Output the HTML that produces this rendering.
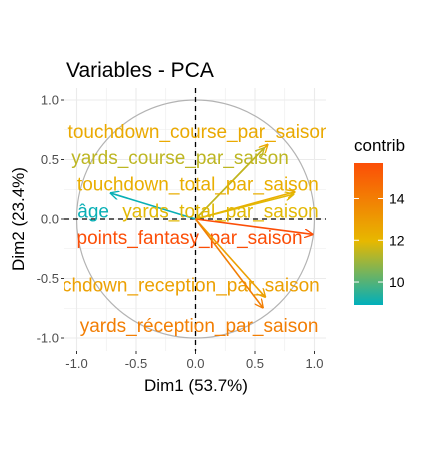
<!DOCTYPE html>
<html><head><meta charset="utf-8"><style>
body{margin:0;background:#fff;}
svg text{font-family:"Liberation Sans",sans-serif;}
</style></head><body>
<svg id="chart" width="426" height="455" xmlns="http://www.w3.org/2000/svg">
<defs>
<clipPath id="pc"><rect x="64" y="88" width="262" height="263"/></clipPath>
<linearGradient id="lg" x1="0" y1="1" x2="0" y2="0">
<stop offset="0" stop-color="#00AFBB"/><stop offset="0.45" stop-color="#E7B800"/><stop offset="1" stop-color="#FC4E07"/>
</linearGradient>
<marker id="ah" viewBox="0 0 10 10" refX="10" refY="5" markerWidth="9" markerHeight="9" orient="auto-start-reverse" markerUnits="userSpaceOnUse"><path d="M0,0 L10,5 L0,10" fill="none" stroke="context-stroke" stroke-width="1.5"/></marker>
</defs>
<text x="66" y="77" font-size="21" fill="#000">Variables - PCA</text>
<g id="grid"></g>
<g id="marks" clip-path="url(#pc)"></g>
<g id="axes"></g>
<text x="196" y="391" font-size="17" text-anchor="middle" fill="#000">Dim1 (53.7%)</text>
<text transform="translate(24,219) rotate(-90)" font-size="17" text-anchor="middle" fill="#000">Dim2 (23.4%)</text>
<text x="354" y="151" font-size="17" fill="#000">contrib</text>
<rect x="354" y="163" width="29" height="142" fill="url(#lg)"/>
<g id="legend"></g>
</svg>
<script>
const names=["touchdown_course_par_saison","yards_course_par_saison","touchdown_total_par_saison","âge","yards_total_par_saison","points_fantasy_par_saison","touchdown_reception_par_saison","yards_réception_par_saison"];
const dim1=[0.61,0.58,0.84,-0.72,0.83,0.99,0.59,0.57];
const dim2=[0.63,0.60,0.23,0.22,0.21,-0.13,-0.66,-0.75];
const contrib=[12.5,11.4,12.3,9.0,11.9,15.7,12.8,14.0];
const labelX=[0.03,-0.13,0.02,-0.86,0.21,-0.05,-0.15,0.03];
const labelY=[0.74,0.52,0.30,0.07,0.07,-0.15,-0.55,-0.89];
const ticks=[-1.0,-0.5,0.0,0.5,1.0];
const tickLabels=["-1.0","-0.5","0.0","0.5","1.0"];
const legendTicks=[10,12,14];
const NS="http://www.w3.org/2000/svg";
const sx=v=>195.5+v*119, sy=v=>219-v*119;
const cy=v=>305-(v-8.9)*(142/6.8);
function mk(t,a,p){const e=document.createElementNS(NS,t);for(const k in a)e.setAttribute(k,a[k]);p.appendChild(e);return e;}
function lerp(a,b,t){return a.map((x,i)=>Math.round(x+(b[i]-x)*t));}
function col(c){const t=Math.max(0,Math.min(1,(c-8.9)/6.8));const A=[0,175,187],B=[231,184,0],C=[252,78,7];const r=t<0.45?lerp(A,B,t/0.45):lerp(B,C,(t-0.45)/0.55);return `rgb(${r})`;}
const grid=document.getElementById('grid'),marks=document.getElementById('marks'),axes=document.getElementById('axes'),leg=document.getElementById('legend');
let bg=mk('rect',{x:64,y:88,width:262,height:263,fill:'#fff'},grid);

for(let v=-1;v<=1.001;v+=0.25){const major=Math.abs(v*2-Math.round(v*2))<1e-6;
 mk('line',{x1:sx(v),x2:sx(v),y1:88,y2:351,stroke:'#ebebeb','stroke-width':major?1.1:0.55},grid);
 mk('line',{x1:64,x2:326,y1:sy(v),y2:sy(v),stroke:'#ebebeb','stroke-width':major?1.1:0.55},grid);}
let circ=mk('circle',{cx:sx(0),cy:sy(0),r:119,fill:'none',stroke:'#b3b3b3','stroke-width':1.2},marks);

mk('line',{x1:64,x2:326,y1:sy(0),y2:sy(0),stroke:'#000','stroke-width':1.3,'stroke-dasharray':'5,4'},marks);
mk('line',{x1:sx(0),x2:sx(0),y1:88,y2:351,stroke:'#000','stroke-width':1.3,'stroke-dasharray':'5,4'},marks);
names.forEach((n,i)=>{const c=col(contrib[i]);
 const a=mk('line',{x1:sx(0),y1:sy(0),x2:sx(dim1[i]),y2:sy(dim2[i]),stroke:c,'stroke-width':1.6,'marker-end':'url(#ah)'},marks);
 
 const t=mk('text',{x:sx(labelX[i]),y:sy(labelY[i])+7,'font-size':19,fill:c,'text-anchor':'middle'},marks);t.textContent=n;
 });
ticks.forEach((v,i)=>{
 mk('line',{x1:sx(v),x2:sx(v),y1:351,y2:354,stroke:'#333'},axes);
 const tx=mk('text',{x:sx(v),y:368,'font-size':13,fill:'#4d4d4d','text-anchor':'middle'},axes);tx.textContent=tickLabels[i];
 
 mk('line',{x1:61,x2:64,y1:sy(v),y2:sy(v),stroke:'#333'},axes);
 const ty=mk('text',{x:59,y:sy(v)+4.5,'font-size':13,fill:'#4d4d4d','text-anchor':'end'},axes);ty.textContent=tickLabels[i];
 });
legendTicks.forEach(v=>{
 mk('line',{x1:354,x2:359,y1:cy(v),y2:cy(v),stroke:'#fff'},leg);mk('line',{x1:378,x2:383,y1:cy(v),y2:cy(v),stroke:'#fff'},leg);
 const t=mk('text',{x:389,y:cy(v)+5,'font-size':14,fill:'#000'},leg);t.textContent=v;
 });
</script>
</body></html>
